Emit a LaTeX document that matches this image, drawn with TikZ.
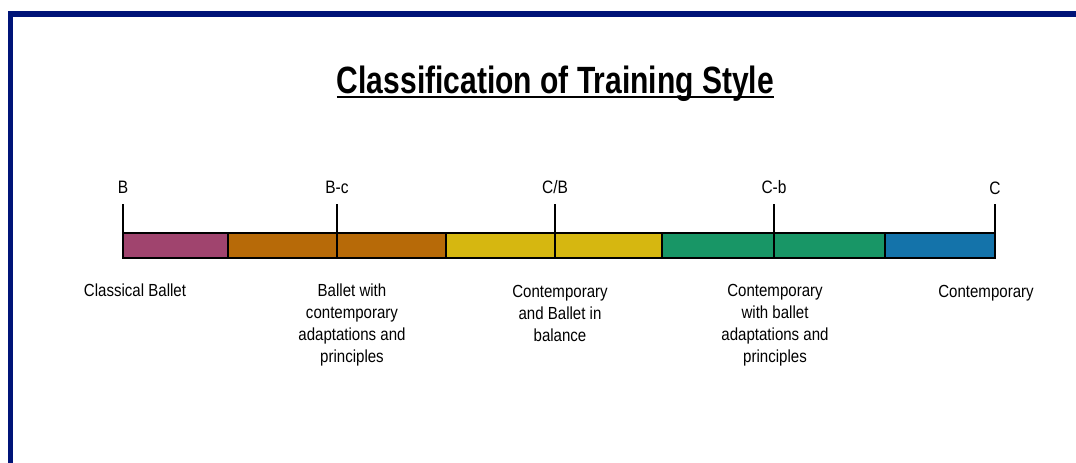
\documentclass[tikz,border=0pt]{standalone}
\usepackage{fontspec}
\setmainfont{Liberation Sans}
\newfontfamily\titlefont[FakeStretch=0.79]{Liberation Sans}
\newfontfamily\labelfont[FakeStretch=0.86]{Liberation Sans}
\usetikzlibrary{calc}
\definecolor{frameblue}{HTML}{001478}
\definecolor{segmagenta}{HTML}{A0446E}
\definecolor{segorange}{HTML}{B76A08}
\definecolor{segyellow}{HTML}{D6B710}
\definecolor{seggreen}{HTML}{189666}
\definecolor{segblue}{HTML}{1473AA}
\tikzset{
  ticklabel/.style={anchor=base, inner sep=0pt, font=\labelfont\fontsize{18}{21}\selectfont},
  desc/.style={anchor=north, inner sep=0pt, align=center, font=\labelfont\fontsize{17.5}{22}\selectfont},
  segment/.style={draw=black, line width=1.4pt},
  tickline/.style={draw=black, line width=1.5pt},
}
\begin{document}
\begin{tikzpicture}[x=1pt, y=-1pt]
\useasboundingbox (0,0) rectangle (1076,463);
\fill[white] (0,0) rectangle (1076,463);
% page frame (top and left edges)
\fill[frameblue] (8,11) rectangle (1076,17);
\fill[frameblue] (8,11) rectangle (13,463);

% title
\node[anchor=base, inner sep=0pt, font=\titlefont\bfseries\fontsize{38}{42}\selectfont] (title) at (555.5,93) {Classification of Training Style};
\draw[line width=2pt] ($(title.base west)+(0,4)$) -- ($(title.base east)+(0,4)$);

% colour bar
\fill[segmagenta] (123,233) rectangle (228,258);
\fill[segorange]  (228,233) rectangle (446,258);
\fill[segyellow]  (446,233) rectangle (662,258);
\fill[seggreen]   (662,233) rectangle (885,258);
\fill[segblue]    (885,233) rectangle (995,258);
\draw[segment] (123,233) rectangle (995,258);
\foreach \xx in {228,446,662,885} \draw[segment] (\xx,233) -- (\xx,258);

% scale marks
\node[ticklabel] (lB)  at (123,193) {B};
\node[ticklabel] (lBc) at (337,193) {B-c};
\node[ticklabel] (lCB) at (555,193) {C/B};
\node[ticklabel] (lCb) at (774,193) {C-b};
\node[ticklabel] (lC)  at (995,194) {C};
\foreach \nm/\xx in {B/123, Bc/337, CB/555, Cb/774, C/995}{
  \coordinate (t\nm) at (\xx,204);
  \coordinate (b\nm) at (\xx,258);
  \draw[tickline] (t\nm) -- (b\nm);
}

% descriptions
\node[desc] (d1) at (135,284) {Classical Ballet};
\node[desc] (d2) at (352,284) {Ballet with\\contemporary\\adaptations and\\principles};
\node[desc] (d3) at (560,285) {Contemporary\\and Ballet in\\balance};
\node[desc] (d4) at (775,284) {Contemporary\\with ballet\\adaptations and\\principles};
\node[desc] (d5) at (986,285) {Contemporary};
\end{tikzpicture}
\end{document}
